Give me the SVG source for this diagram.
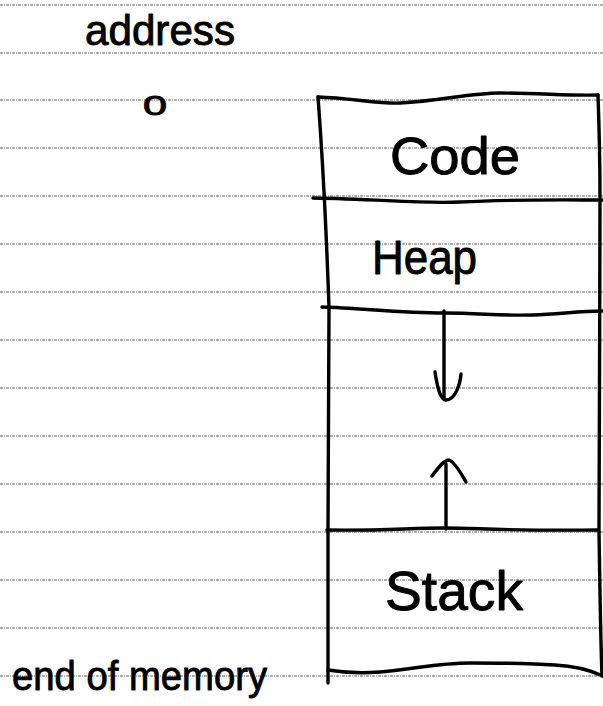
<svg xmlns="http://www.w3.org/2000/svg" width="603" height="706" viewBox="0 0 603 706">
  <style>
    .rule { stroke: #5e5e5e; stroke-width: 1.2; stroke-dasharray: 3 1 1 1; fill: none; }
    .pen { stroke: #000; stroke-width: 3.4; fill: none; stroke-linecap: round; stroke-linejoin: round; }
    .hand { font-family: "Liberation Sans", "DejaVu Sans", sans-serif; fill: #000; stroke: #000; stroke-width: 0.9; stroke-linejoin: round; }
  </style>

  <rect x="0" y="0" width="603" height="706" fill="#fff"/>

  <!-- ruled notebook paper -->
  <g id="ruled-lines">
    <line class="rule" x1="0" y1="5" x2="603" y2="5"/>
    <line class="rule" x1="0" y1="53" x2="603" y2="53"/>
    <line class="rule" x1="0" y1="100" x2="603" y2="100"/>
    <line class="rule" x1="0" y1="148" x2="603" y2="148"/>
    <line class="rule" x1="0" y1="196" x2="603" y2="196"/>
    <line class="rule" x1="0" y1="244" x2="603" y2="244"/>
    <line class="rule" x1="0" y1="292" x2="603" y2="292"/>
    <line class="rule" x1="0" y1="340" x2="603" y2="340"/>
    <line class="rule" x1="0" y1="388" x2="603" y2="388"/>
    <line class="rule" x1="0" y1="436" x2="603" y2="436"/>
    <line class="rule" x1="0" y1="484" x2="603" y2="484"/>
    <line class="rule" x1="0" y1="532" x2="603" y2="532"/>
    <line class="rule" x1="0" y1="580" x2="603" y2="580"/>
    <line class="rule" x1="0" y1="628" x2="603" y2="628"/>
    <line class="rule" x1="0" y1="676" x2="603" y2="676"/>
  </g>

  <!-- address axis labels -->
  <g id="address-label">
    <text class="hand" x="85" y="45" font-size="42" textLength="150" lengthAdjust="spacingAndGlyphs">address</text>
  </g>
  <g id="address-zero">
    <text class="hand" x="155" y="115" font-size="28" text-anchor="middle" textLength="24" lengthAdjust="spacingAndGlyphs">0</text>
  </g>
  <g id="end-of-memory">
    <text class="hand" x="12" y="690" font-size="40" textLength="255" lengthAdjust="spacingAndGlyphs">end of memory</text>
  </g>

  <!-- memory block outline -->
  <g id="memory-outline">
    <path class="pen" d="M318,97 C350,98 380,104 400,103 C440,101 470,93 500,93 C540,93 570,96 598,95"/>
    <path class="pen" d="M318,97 C322,150 327,250 329,308 C329,400 328,480 328,530 L328,683"/>
    <path class="pen" d="M598,95 C600,150 600,180 600,200 C600,300 599,450 599,530 C600,600 601,650 602,676"/>
    <path class="pen" d="M328,670 C340,672 355,674 380,672 C420,668 440,663 470,663 C510,663 540,664 555,665 C575,666 590,670 603,676"/>
  </g>

  <!-- segments -->
  <g id="code-segment">
    <text class="hand" x="390" y="174" font-size="52" textLength="130" lengthAdjust="spacingAndGlyphs">Code</text>
  </g>
  <g id="heap-segment">
    <path class="pen" d="M313,198 C380,199 420,204 460,202 C520,199 570,200 602,200"/>
    <text class="hand" x="372" y="274" font-size="48" textLength="105" lengthAdjust="spacingAndGlyphs">Heap</text>
  </g>
  <g id="free-segment">
    <path class="pen" d="M322,307 C360,308 400,313 444,313 C480,313 500,316 533,315 C560,314 580,311 603,311"/>
  </g>
  <g id="stack-segment">
    <path class="pen" d="M327,530 C380,531 410,528 444,528 C480,528 500,531 598,530"/>
    <text class="hand" x="385" y="610" font-size="56" textLength="138" lengthAdjust="spacingAndGlyphs">Stack</text>
  </g>

  <!-- growth directions -->
  <g id="connectors">
    <path class="pen" d="M444,311 L444,398"/>
    <path class="pen" d="M435,372 C437,385 440,400 446,400 C455,400 460,385 461,374"/>
    <path class="pen" d="M446,529 L446,464"/>
    <path class="pen" d="M432,476 C438,468 444,460 449,460 C455,462 462,475 466,482"/>
  </g>
</svg>
